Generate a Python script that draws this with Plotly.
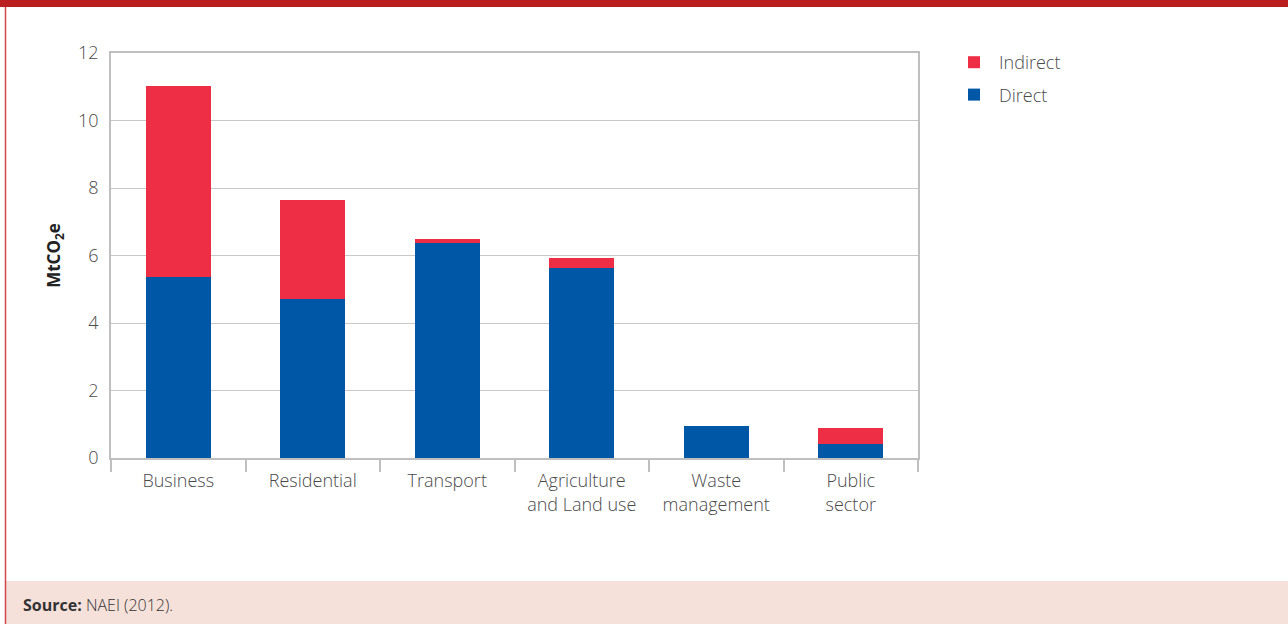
import plotly.graph_objects as go

# Emissions by sector, MtCO2e
sectors = ["Business", "Residential", "Transport", "Agriculture<br>and Land use",
           "Waste<br>management", "Public<br>sector"]
direct = [5.36, 4.71, 6.37, 5.63, 0.95, 0.42]
indirect = [5.66, 2.93, 0.12, 0.30, 0.0, 0.47]

RED = "#EE2E44"
BLUE = "#0057A6"
FONT = "Open Sans"

# plot-area pixel frame, used to place decorations in paper coordinates
W, H = 1288, 624
L, R, T, B = 111, 918, 53, 458
pw, ph = R - L, B - T


def px(x):
    return (x - L) / pw


def py(y):
    return (B - y) / ph


fig = go.Figure()
fig.add_bar(name="Direct", x=sectors, y=direct, marker_color=BLUE,
            marker_line_width=0, legendgroup="d", legendrank=2)
fig.add_bar(name="Indirect", x=sectors, y=indirect, marker_color=RED,
            marker_line_width=0, legendgroup="i", legendrank=1)

shapes = [
    # header band
    dict(type="rect", xref="paper", yref="paper", x0=px(0), x1=px(W), y0=py(7), y1=py(0),
         fillcolor="#BA1E1E", line_width=0, layer="below"),
    # footer band
    dict(type="rect", xref="paper", yref="paper", x0=px(6), x1=px(W), y0=py(W), y1=py(581),
         fillcolor="#F6E1DA", line_width=0, layer="below"),
    # left frame rule
    dict(type="line", xref="paper", yref="paper", x0=px(5.5), x1=px(5.5), y0=py(624), y1=py(7),
         line=dict(color="#D0494B", width=1.5)),
]

light = dict(family=FONT, size=18, color="#4A4A4A", weight=300)

fig.update_layout(
    width=W, height=H,
    margin=dict(l=L, r=W - R, t=T, b=H - B, autoexpand=False),
    paper_bgcolor="white", plot_bgcolor="white",
    barmode="stack", bargap=0.52,
    font=light,
    showlegend=True,
    legend=dict(x=px(949), y=py(44), xanchor="left", yanchor="top",
                traceorder="grouped", tracegroupgap=6,
                font=light, itemwidth=40),
    shapes=shapes,
    annotations=[
        dict(xref="paper", yref="paper", x=px(21), y=py(605), xanchor="left", yanchor="middle",
             text="<b>Source:</b> NAEI (2012).", showarrow=False,
             font=dict(family=FONT, size=16, color="#333333", weight=300)),
    ],
)

fig.update_xaxes(showline=True, linecolor="#BFBFBF", linewidth=1.5, mirror=True,
                 ticks="outside", tickson="boundaries", ticklen=12, tickcolor="#BFBFBF",
                 tickwidth=1.5, showgrid=False, tickfont=light, ticklabelstandoff=6)
fig.update_yaxes(range=[0, 12], dtick=2, showline=True, linecolor="#BFBFBF", linewidth=1.5,
                 mirror=True, gridcolor="#C8C8C8", gridwidth=1.2, zeroline=False,
                 ticks="", tickfont=light, ticklabelstandoff=7,
                 title=dict(text="<b>MtCO<sub>2</sub>e</b>", standoff=13,
                            font=dict(family=FONT, size=17, color="#222222")))

fig.write_html("out.html")
